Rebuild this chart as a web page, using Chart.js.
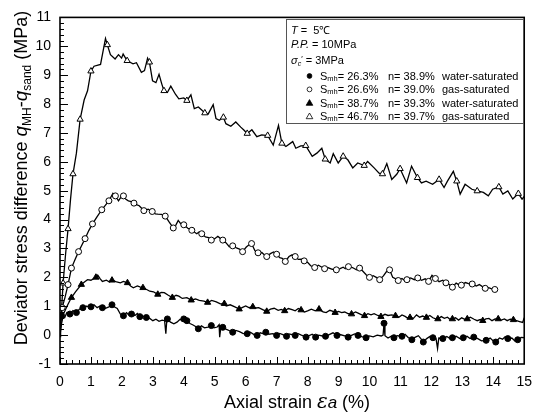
<!DOCTYPE html>
<html>
<head>
<meta charset="utf-8">
<script src="https://cdn.jsdelivr.net/npm/chart.js@4.4.1/dist/chart.umd.min.js"></script>
<style>
html, body { margin: 0; padding: 0; background: #fff; }
canvas { display: block; }
</style>
</head>
<body>
<canvas id="shearCurves" width="542" height="419"></canvas>
<script>
// [axial strain %, deviator stress difference MPa]

// Smh 46.7 %, gas-saturated (open triangles)
var gas467Line = [[0,-0.05],[0.05,0.9],[0.1,1.8],[0.18,2.8],[0.26,3.68],[0.34,4.7],[0.42,5.58],[0.53,6.3],[0.65,7.47],[0.78,8.14],[0.89,8.46],
  [1.0,9.14],[1.1,9.31],[1.31,9.37],[1.47,10.27],[1.53,10.05],[1.63,9.71],[1.78,9.56],[1.89,9.71],[1.99,9.59],[2.04,9.73],[2.17,9.5],
  [2.36,9.39],[2.47,9.43],[2.63,9.1],[2.73,9.16],[2.83,9.59],[2.89,9.45],[2.99,8.8],[3.1,8.74],[3.2,9.03],[3.29,8.69],[3.36,8.46],
  [3.47,8.4],[3.58,8.62],[3.73,8.34],[3.84,8.18],[4.0,8.21],[4.1,8.12],[4.23,8.32],[4.34,7.84],[4.47,7.9],[4.57,7.8],[4.68,7.69],
  [4.79,7.66],[4.95,7.98],[5.04,7.5],[5.15,7.44],[5.28,7.54],[5.36,7.32],[5.52,7.23],[5.68,7.38],[5.84,7.2],[5.94,7.1],[6.05,6.98],
  [6.2,7.11],[6.36,6.87],[6.52,6.93],[6.71,6.91],[6.89,6.58],[7.06,7.26],[7.17,6.64],[7.3,6.53],[7.52,6.7],[7.62,6.47],[7.78,6.55],
  [7.94,6.56],[8.15,6.19],[8.3,6.3],[8.46,6.47],[8.57,6.09],[8.73,5.96],[8.83,6.28],[8.99,5.96],[9.15,6.19],[9.3,6.07],[9.46,5.79],
  [9.62,5.96],[9.83,5.87],[9.94,6.01],[10.15,5.79],[10.31,5.61],[10.42,5.58],[10.56,5.94],[10.72,5.39],[10.88,5.57],[10.99,5.76],
  [11.2,5.27],[11.36,5.85],[11.55,5.45],[11.68,5.27],[11.83,5.33],[12.04,5.22],[12.25,5.39],[12.41,5.11],[12.52,5.33],[12.71,5.67],
  [12.82,5.33],[12.93,4.88],[13.09,5.22],[13.31,5.05],[13.48,4.99],[13.68,4.94],[13.84,4.82],[13.98,5.05],[14.18,5.13],[14.31,4.88],
  [14.47,4.99],[14.63,4.71],[14.81,4.9],[14.93,4.71],[15,4.8]];
var gas467Marks = [[0.1,1.8],[0.26,3.68],[0.42,5.58],[0.65,7.47],[1.0,9.14],[1.53,10.05],[2.17,9.5],[2.89,9.45],[3.36,8.46],[4.1,8.12],
  [4.68,7.69],[5.28,7.54],[6.05,6.98],[6.71,6.91],[7.17,6.64],[7.94,6.56],[8.57,6.09],[9.15,6.19],[9.83,5.87],[10.42,5.58],
  [10.99,5.76],[11.55,5.45],[12.25,5.39],[12.82,5.33],[13.48,4.99],[14.18,5.13],[14.81,4.9]];

// Smh 26.6 %, gas-saturated (open circles)
var gas266Line = [[0,0.1],[0.07,0.95],[0.16,1.3],[0.26,1.75],[0.37,2.32],[0.48,2.6],[0.6,2.89],[0.7,3.1],[0.81,3.34],[0.93,3.62],
  [1.05,3.85],[1.2,4.1],[1.35,4.34],[1.47,4.5],[1.58,4.65],[1.71,4.91],[1.79,4.82],[1.89,4.65],[1.97,4.78],[2.05,4.82],[2.13,4.7],
  [2.21,4.65],[2.3,4.62],[2.39,4.57],[2.47,4.52],[2.56,4.48],[2.63,4.4],[2.71,4.31],[2.85,4.36],[2.98,4.28],[3.08,4.2],[3.16,4.19],
  [3.28,4.18],[3.4,4.12],[3.53,3.91],[3.66,3.71],[3.74,3.8],[3.82,3.97],[3.9,3.86],[4.0,3.82],[4.13,3.7],[4.26,3.63],[4.35,3.56],
  [4.42,3.51],[4.5,3.58],[4.58,3.51],[4.7,3.4],[4.8,3.38],[4.89,3.29],[5.0,3.34],[5.1,3.42],[5.18,3.35],[5.26,3.29],[5.36,3.2],
  [5.47,3.06],[5.58,3.09],[5.7,3.02],[5.8,2.98],[5.9,2.89],[6.02,3.05],[6.1,3.12],[6.19,3.17],[6.3,2.92],[6.4,2.85],[6.52,2.86],
  [6.6,2.78],[6.68,2.72],[6.8,2.82],[6.9,2.88],[7.0,2.8],[7.1,2.68],[7.18,2.66],[7.28,2.55],[7.4,2.72],[7.5,2.78],[7.6,2.72],
  [7.7,2.62],[7.8,2.63],[7.89,2.57],[8.0,2.52],[8.1,2.4],[8.23,2.34],[8.35,2.42],[8.45,2.36],[8.55,2.3],[8.65,2.34],[8.8,2.28],
  [8.93,2.26],[9.05,2.3],[9.15,2.35],[9.22,2.3],[9.32,2.37],[9.45,2.34],[9.58,2.26],[9.68,2.32],[9.78,2.22],[9.9,2.08],[10.0,2.0],
  [10.12,2.06],[10.22,2.0],[10.33,1.92],[10.45,2.05],[10.55,2.2],[10.65,2.26],[10.75,2.0],[10.85,1.95],[10.93,1.89],[11.05,1.96],
  [11.13,1.9],[11.21,1.92],[11.33,1.98],[11.45,1.92],[11.56,1.98],[11.68,1.9],[11.8,1.95],[11.91,1.86],[12.02,2.07],[12.13,1.96],
  [12.25,1.85],[12.37,1.9],[12.47,1.81],[12.58,1.75],[12.68,1.66],[12.8,1.8],[12.88,1.75],[12.97,1.73],[13.1,1.82],[13.2,1.78],
  [13.32,1.77],[13.45,1.7],[13.55,1.75],[13.65,1.68],[13.74,1.62],[13.85,1.64],[13.95,1.6],[14.05,1.58]];
var gas266Marks = [[0.07,0.95],[0.26,1.75],[0.37,2.32],[0.6,2.89],[0.81,3.34],[1.05,3.85],[1.35,4.34],[1.58,4.65],[1.79,4.82],
  [2.05,4.82],[2.39,4.57],[2.71,4.31],[2.98,4.28],[3.4,4.12],[3.66,3.71],[4.0,3.82],[4.26,3.63],[4.58,3.51],[4.89,3.29],[5.26,3.29],
  [5.58,3.09],[5.9,2.89],[6.19,3.17],[6.4,2.85],[6.68,2.72],[7.0,2.8],[7.28,2.55],[7.6,2.72],[7.89,2.57],[8.23,2.34],[8.55,2.3],
  [8.93,2.26],[9.32,2.37],[9.68,2.32],[10.0,2.0],[10.33,1.92],[10.65,2.26],[10.93,1.89],[11.21,1.92],[11.56,1.98],[11.91,1.86],
  [12.13,1.96],[12.47,1.81],[12.68,1.66],[12.97,1.73],[13.32,1.77],[13.74,1.62],[14.05,1.58]];

// Smh 38.7 %, water-saturated (filled triangles)
var wat387Line = [[0,0],[0.05,0.4],[0.12,0.75],[0.25,1.05],[0.37,1.3],[0.5,1.5],[0.69,1.75],[0.8,1.85],[0.89,1.92],[1.0,1.9],
  [1.16,2.0],[1.22,2.08],[1.3,1.95],[1.37,1.86],[1.5,1.9],[1.6,1.84],[1.68,1.9],[1.8,1.85],[1.95,1.81],[2.05,1.86],[2.18,1.81],
  [2.28,1.7],[2.37,1.64],[2.5,1.7],[2.6,1.66],[2.68,1.64],[2.8,1.58],[2.9,1.52],[3.02,1.5],[3.16,1.41],[3.27,1.48],[3.37,1.47],
  [3.5,1.38],[3.63,1.3],[3.75,1.38],[3.84,1.35],[3.95,1.27],[4.1,1.3],[4.24,1.21],[4.38,1.25],[4.5,1.2],[4.65,1.18],[4.77,1.13],
  [4.9,1.2],[5.05,1.15],[5.18,1.08],[5.31,1.09],[5.37,1.01],[5.5,1.05],[5.65,0.98],[5.79,0.9],[5.9,0.96],[6.0,1.01],[6.1,0.95],
  [6.23,0.98],[6.33,0.94],[6.42,0.95],[6.55,0.88],[6.68,0.82],[6.8,0.9],[6.92,0.93],[7.05,0.86],[7.15,0.89],[7.26,0.84],[7.38,0.92],
  [7.5,0.88],[7.6,0.84],[7.7,0.92],[7.79,0.87],[7.9,0.8],[8.02,0.85],[8.12,0.9],[8.25,0.84],[8.37,0.9],[8.5,0.8],[8.6,0.78],
  [8.72,0.86],[8.8,0.83],[8.89,0.78],[9.0,0.82],[9.1,0.78],[9.2,0.8],[9.32,0.74],[9.42,0.73],[9.55,0.8],[9.65,0.75],[9.75,0.7],
  [9.84,0.67],[9.95,0.74],[10.05,0.7],[10.15,0.74],[10.27,0.68],[10.37,0.64],[10.5,0.72],[10.6,0.68],[10.72,0.7],[10.84,0.67],
  [10.95,0.62],[11.05,0.7],[11.15,0.65],[11.22,0.6],[11.31,0.61],[11.42,0.58],[11.52,0.7],[11.62,0.62],[11.72,0.66],[11.84,0.61],
  [11.95,0.68],[12.05,0.6],[12.12,0.57],[12.21,0.56],[12.32,0.64],[12.42,0.58],[12.52,0.62],[12.6,0.55],[12.68,0.56],[12.78,0.6],
  [12.88,0.52],[12.98,0.6],[13.08,0.55],[13.16,0.56],[13.26,0.62],[13.38,0.55],[13.48,0.5],[13.58,0.54],[13.66,0.5],[13.76,0.56],
  [13.86,0.58],[13.96,0.5],[14.06,0.56],[14.16,0.56],[14.26,0.52],[14.36,0.56],[14.45,0.5],[14.55,0.55],[14.65,0.53],[14.75,0.5],
  [14.85,0.47],[14.95,0.44],[15,0.6]];
var wat387Marks = [[0.37,1.3],[0.69,1.75],[1.16,2.0],[1.68,1.9],[2.18,1.81],[2.68,1.64],[3.16,1.41],[3.63,1.3],[4.24,1.21],
  [4.77,1.13],[5.31,1.09],[5.79,0.9],[6.23,0.98],[6.68,0.82],[7.26,0.84],[7.79,0.87],[8.37,0.9],[8.89,0.78],[9.42,0.73],[9.84,0.67],
  [10.37,0.64],[10.84,0.67],[11.31,0.61],[11.84,0.61],[12.21,0.56],[12.68,0.56],[13.16,0.56],[13.66,0.5],[14.16,0.56],[14.65,0.53]];

// Smh 26.3 %, water-saturated (filled circles)
var wat263Line = [[0,-0.05],[0.02,0.5],[0.05,0.67],[0.15,0.6],[0.22,0.78],[0.32,0.73],[0.42,0.85],[0.53,0.78],[0.63,0.9],[0.74,0.95],
  [0.85,1.0],[1.0,0.98],[1.1,1.05],[1.2,0.95],[1.28,1.0],[1.37,0.95],[1.47,0.93],[1.58,0.98],[1.68,1.05],[1.75,0.98],[1.85,0.92],
  [1.95,0.73],[2.05,0.67],[2.15,0.78],[2.22,0.7],[2.31,0.73],[2.42,0.68],[2.5,0.75],[2.58,0.64],[2.68,0.66],[2.79,0.61],[2.9,0.58],
  [3.0,0.5],[3.1,0.55],[3.2,0.48],[3.3,0.52],[3.38,0.5],[3.42,0.05],[3.45,0.5],[3.47,0.56],[3.57,0.45],[3.68,0.39],[3.78,0.45],
  [3.88,0.55],[3.95,0.5],[4.0,0.56],[4.1,0.5],[4.2,0.4],[4.3,0.35],[4.38,0.3],[4.47,0.22],[4.57,0.32],[4.67,0.25],[4.78,0.28],
  [4.89,0.33],[4.98,0.25],[5.08,0.28],[5.14,0.36],[5.16,-0.07],[5.2,0.3],[5.26,0.27],[5.38,0.2],[5.48,0.15],[5.58,0.1],[5.68,0.16],
  [5.8,0.12],[5.92,0.05],[6.05,0.05],[6.15,0.1],[6.27,0.02],[6.37,-0.01],[6.47,0.08],[6.55,0.05],[6.65,0.1],[6.75,0.03],[6.88,0.05],
  [7.0,-0.01],[7.1,0.06],[7.2,0.02],[7.32,-0.04],[7.4,0.04],[7.5,0.02],[7.6,-0.01],[7.7,0.05],[7.8,0.0],[7.95,-0.07],[8.05,-0.02],
  [8.15,0.03],[8.26,-0.07],[8.36,0.0],[8.48,-0.03],[8.58,-0.04],[8.7,0.02],[8.82,0.08],[8.95,-0.01],[9.05,0.02],[9.2,-0.03],
  [9.31,-0.07],[9.42,-0.01],[9.52,0.04],[9.63,-0.01],[9.75,-0.05],[9.89,-0.09],[10.0,-0.03],[10.12,-0.06],[10.25,0.0],[10.38,-0.03],
  [10.44,0.0],[10.47,0.41],[10.5,-0.02],[10.6,-0.1],[10.7,-0.04],[10.79,-0.09],[10.9,-0.02],[11.05,-0.04],[11.15,0.03],[11.25,-0.08],
  [11.37,-0.16],[11.47,-0.08],[11.58,-0.02],[11.66,-0.12],[11.74,-0.24],[11.85,-0.12],[11.95,-0.05],[12.05,-0.09],[12.15,-0.12],
  [12.2,-0.46],[12.24,-0.1],[12.37,-0.12],[12.5,-0.05],[12.6,-0.12],[12.68,-0.09],[12.8,-0.04],[12.92,-0.12],[13.03,-0.09],
  [13.15,-0.04],[13.25,-0.12],[13.37,-0.07],[13.5,-0.12],[13.62,-0.2],[13.77,-0.18],[13.9,-0.1],[14.0,-0.2],[14.08,-0.24],[14.2,-0.1],
  [14.3,-0.14],[14.38,-0.06],[14.47,-0.12],[14.6,-0.1],[14.7,-0.2],[14.79,-0.16],[14.9,-0.08],[15,-0.09]];
var wat263Marks = [[0.05,0.67],[0.32,0.73],[0.53,0.78],[0.74,0.95],[1.0,0.98],[1.37,0.95],[1.68,1.05],[2.05,0.67],[2.31,0.73],
  [2.58,0.64],[2.79,0.61],[3.47,0.56],[4.0,0.56],[4.1,0.5],[4.47,0.22],[4.89,0.33],[5.26,0.27],[5.58,0.1],[6.05,0.05],[6.37,-0.01],
  [6.65,0.1],[7.0,-0.01],[7.32,-0.04],[7.6,-0.01],[7.95,-0.07],[8.26,-0.07],[8.58,-0.04],[8.95,-0.01],[9.31,-0.07],[9.63,-0.01],
  [9.89,-0.09],[10.47,0.41],[10.79,-0.09],[11.05,-0.04],[11.37,-0.16],[11.74,-0.24],[12.05,-0.09],[12.37,-0.12],[12.68,-0.09],
  [13.03,-0.09],[13.37,-0.07],[13.77,-0.18],[14.08,-0.24],[14.47,-0.12],[14.79,-0.16]];

// legend rows, same order as in the figure
var smhValues = ['26.3%', '26.6%', '38.7%', '46.7%'];
var porosityValues = ['38.9%', '39.0%', '39.3%', '39.7%'];
var fluidLabels = ['water-saturated', 'gas-saturated', 'water-saturated', 'gas-saturated'];

var SANS = '"Liberation Sans", Arial, sans-serif';

function pts(arr) {
    return arr.map(function (p) { return { x: p[0], y: p[1] }; });
}

function lineSet(arr) {
    return {
        data: pts(arr),
        borderColor: '#000',
        borderWidth: 1.3,
        pointRadius: 0,
        fill: false,
        tension: 0,
        order: 2
    };
}

function markSet(arr, style, filled) {
    return {
        data: pts(arr),
        showLine: false,
        pointStyle: style,
        pointRadius: style === 'triangle' ? 3.6 : 3,
        pointBackgroundColor: filled ? '#000' : '#fff',
        pointBorderColor: '#000',
        pointBorderWidth: 1,
        order: 1
    };
}

// draw a run of text pieces with different fonts one after the other
function textRuns(ctx, parts, x, y, center) {
    var w = 0;
    parts.forEach(function (p) { ctx.font = p.f; w += ctx.measureText(p.t).width; });
    var cx = center ? x - w / 2 : x;
    parts.forEach(function (p) {
        ctx.font = p.f;
        ctx.fillText(p.t, cx, y + (p.dy || 0));
        cx += ctx.measureText(p.t).width;
    });
}

function legendMark(ctx, x, y, style, filled) {
    ctx.beginPath();
    if (style === 'circle') {
        ctx.arc(x, y, 2.4, 0, Math.PI * 2);
    } else {
        ctx.moveTo(x, y - 3.2);
        ctx.lineTo(x + 3.3, y + 2.5);
        ctx.lineTo(x - 3.3, y + 2.5);
        ctx.closePath();
    }
    ctx.fillStyle = filled ? '#000' : '#fff';
    ctx.fill();
    ctx.strokeStyle = '#000';
    ctx.lineWidth = 0.8;
    ctx.stroke();
}

var decorations = {
    id: 'decorations',
    afterDraw: function (chart) {
        var ctx = chart.ctx, a = chart.chartArea;
        var xs = chart.scales.x, ys = chart.scales.y;
        var i, px, len;
        ctx.save();

        // inward ticks on left and bottom
        ctx.strokeStyle = '#000';
        ctx.lineWidth = 1;
        ctx.beginPath();
        for (i = 0; i <= 75; i++) {
            px = Math.round(xs.getPixelForValue(i / 5)) + 0.5;
            len = i % 5 ? 4 : 7;
            ctx.moveTo(px, a.bottom);
            ctx.lineTo(px, a.bottom - len);
        }
        for (i = 0; i <= 60; i++) {
            px = Math.round(ys.getPixelForValue(-1 + i / 5)) + 0.5;
            len = i % 5 ? 4 : 8;
            ctx.moveTo(a.left, px);
            ctx.lineTo(a.left + len, px);
        }
        ctx.stroke();

        // frame
        ctx.lineWidth = 1.6;
        ctx.strokeRect(a.left, a.top, a.right - a.left, a.bottom - a.top);

        // legend box
        ctx.lineWidth = 1;
        ctx.strokeStyle = '#555';
        ctx.strokeRect(286.5, 19.5, 237, 104);

        ctx.fillStyle = '#000';
        ctx.textBaseline = 'alphabetic';
        ctx.textAlign = 'left';
        var f11 = '11px ' + SANS, i11 = 'italic 11px ' + SANS;
        textRuns(ctx, [{ t: 'T', f: i11 }, { t: ' =  5\u2103', f: f11 }], 291, 34);
        textRuns(ctx, [{ t: 'P.P.', f: i11 }, { t: ' = 10MPa', f: f11 }], 291, 48);
        textRuns(ctx, [{ t: '\u03c3', f: i11 }, { t: 'c', f: 'italic 7px ' + SANS, dy: 2 },
            { t: '\u2032', f: '8px ' + SANS, dy: -3 }, { t: ' = 3MPa', f: f11 }], 291, 64);

        var styles = ['circle', 'circle', 'triangle', 'triangle'];
        var filled = [true, false, true, false];
        for (i = 0; i < 4; i++) {
            var base = 80 + i * 13.4;
            legendMark(ctx, 309.5, base - 4, styles[i], filled[i]);
            ctx.fillStyle = '#000';
            textRuns(ctx, [{ t: 'S', f: f11 }, { t: 'mh', f: '7.5px ' + SANS, dy: 1 },
                { t: '= ' + smhValues[i], f: f11 }], 320, base);
            textRuns(ctx, [{ t: 'n= ' + porosityValues[i], f: f11 }], 388, base);
            textRuns(ctx, [{ t: fluidLabels[i], f: f11 }], 442, base);
        }

        // axis titles
        var f18 = '18px ' + SANS, i18 = 'italic 19px ' + SANS, s12 = '12px ' + SANS;
        textRuns(ctx, [{ t: 'Axial strain ', f: f18 },
            { t: '\u03b5', f: 'italic 20px "DejaVu Serif", serif' },
            { t: 'a', f: 'italic 17px ' + SANS },
            { t: ' (%)', f: f18 }], 297, 408, true);

        ctx.translate(27, 178);
        ctx.rotate(-Math.PI / 2);
        textRuns(ctx, [{ t: 'Deviator stress difference ', f: f18 },
            { t: 'q', f: i18 }, { t: 'MH', f: s12, dy: 4 },
            { t: '-', f: f18 },
            { t: 'q', f: i18 }, { t: 'sand', f: s12, dy: 4 },
            { t: ' (MPa)', f: f18 }], 0, 0, true);

        ctx.restore();
    }
};

var ctx = document.getElementById('shearCurves').getContext('2d');
var chart = new Chart(ctx, {
    type: 'line',
    data: {
        datasets: [
            markSet(wat263Marks, 'circle', true),
            markSet(gas266Marks, 'circle', false),
            markSet(wat387Marks, 'triangle', true),
            markSet(gas467Marks, 'triangle', false),
            lineSet(wat263Line),
            lineSet(gas266Line),
            lineSet(wat387Line),
            lineSet(gas467Line)
        ]
    },
    options: {
        responsive: false,
        animation: false,
        events: [],
        layout: {
            padding: { top: 12, right: 7, left: 0, bottom: 0 }
        },
        plugins: {
            legend: { display: false },
            tooltip: { enabled: false },
            title: { display: false }
        },
        scales: {
            x: {
                type: 'linear',
                min: 0,
                max: 15,
                ticks: { stepSize: 1, color: '#000', padding: 10, maxRotation: 0, font: { size: 14, family: SANS } },
                grid: { display: false, drawTicks: false },
                border: { display: false },
                afterFit: function (s) { s.height = 55; }
            },
            y: {
                type: 'linear',
                min: -1,
                max: 11,
                ticks: { stepSize: 1, color: '#000', padding: 9, font: { size: 14, family: SANS } },
                grid: { display: false, drawTicks: false },
                border: { display: false },
                afterFit: function (s) { s.width = 60; }
            }
        }
    },
    plugins: [decorations]
});
</script>
</body>
</html>
